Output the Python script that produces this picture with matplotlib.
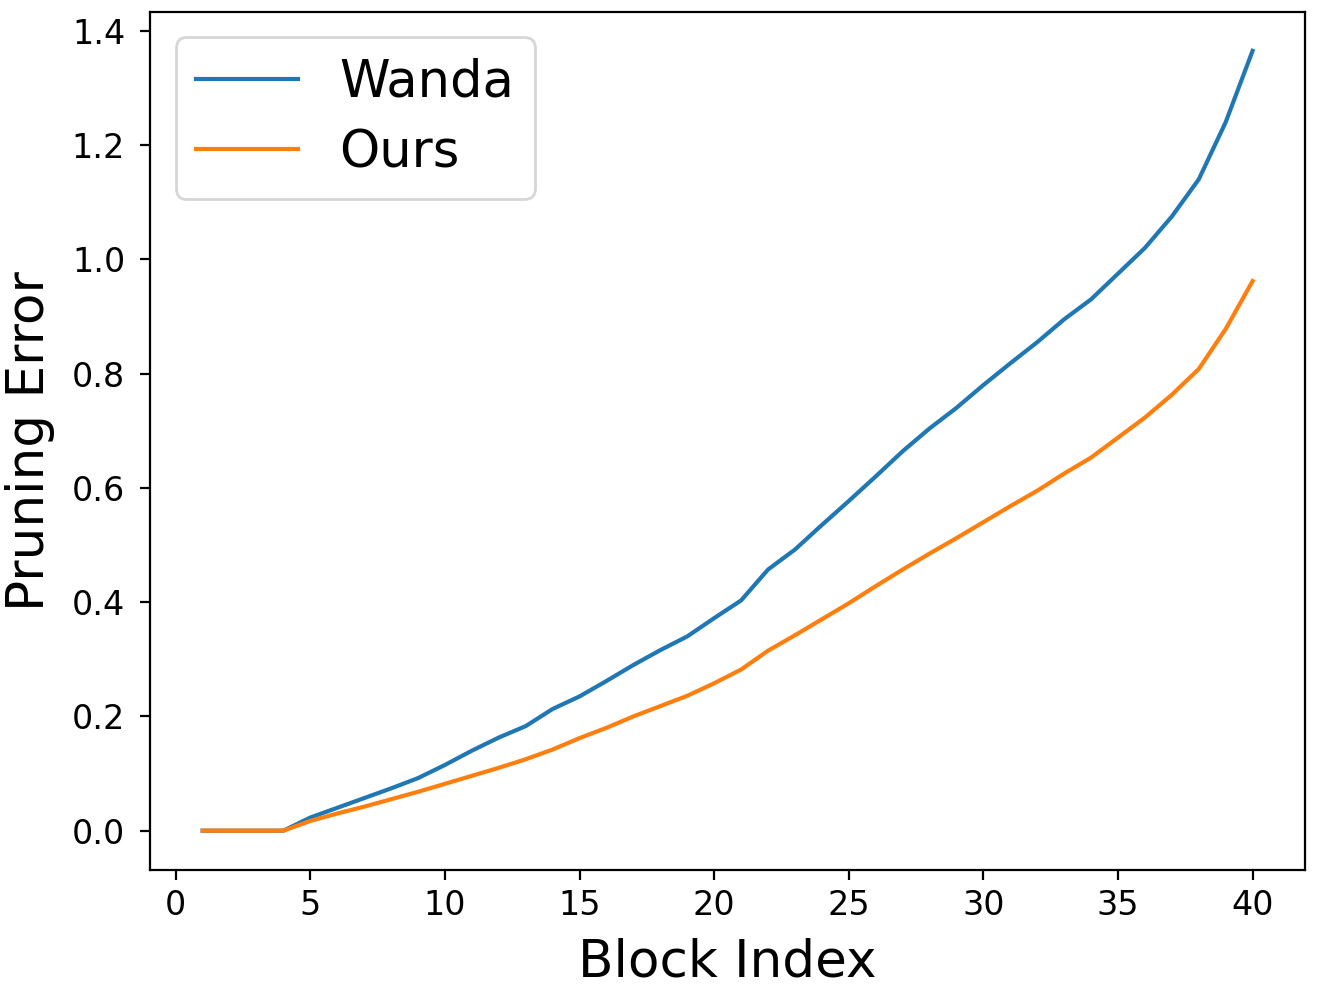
import matplotlib
matplotlib.use("Agg")
import matplotlib.pyplot as plt

block_index = list(range(1, 41))
wanda = [0.0, 0.0, 0.0, 0.0, 0.023, 0.040, 0.057, 0.074, 0.092, 0.115,
         0.140, 0.163, 0.183, 0.213, 0.235, 0.262, 0.290, 0.316, 0.340, 0.372,
         0.403, 0.457, 0.492, 0.535, 0.577, 0.620, 0.664, 0.704, 0.740, 0.780,
         0.818, 0.855, 0.895, 0.930, 0.975, 1.020, 1.075, 1.140, 1.240, 1.365]
ours = [0.0, 0.0, 0.0, 0.0, 0.017, 0.030, 0.042, 0.055, 0.068, 0.082,
        0.096, 0.110, 0.125, 0.142, 0.162, 0.180, 0.200, 0.218, 0.236, 0.258,
        0.282, 0.315, 0.342, 0.370, 0.398, 0.428, 0.457, 0.485, 0.512, 0.540,
        0.568, 0.595, 0.625, 0.653, 0.688, 0.723, 0.763, 0.808, 0.878, 0.962]
series_labels = ["Wanda", "Ours"]

fig = plt.figure(figsize=(1329 / 200, 986 / 200), dpi=200)
ax = fig.add_axes([0.113, 0.118, 0.869, 0.870])
ax.plot(block_index, wanda, color="#1f77b4", lw=1.5, label=series_labels[0])
ax.plot(block_index, ours, color="#ff7f0e", lw=1.5, label=series_labels[1])
ax.set_xticks([0, 5, 10, 15, 20, 25, 30, 35, 40])
ax.set_yticks([0.0, 0.2, 0.4, 0.6, 0.8, 1.0, 1.2, 1.4])
ax.tick_params(axis="x", labelsize=12, pad=3.5)
ax.tick_params(axis="y", labelsize=12, pad=5.5)
ax.set_xlabel("Block Index", fontsize=18.6, labelpad=5.5)
ax.set_ylabel("Pruning Error", fontsize=18.6, labelpad=6)
ax.legend(loc="upper left", fontsize=18.4, labelspacing=0.4)
fig.savefig("out.png", dpi=200)
